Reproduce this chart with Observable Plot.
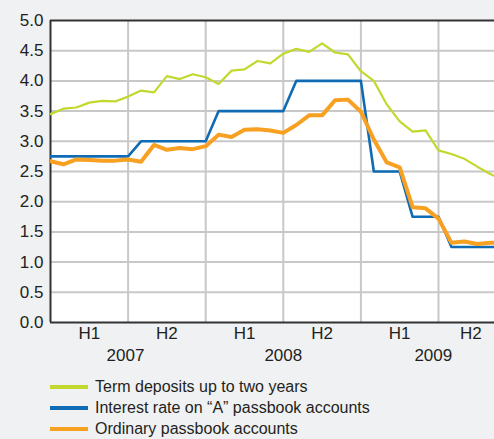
<!DOCTYPE html>
<html>
<head>
<meta charset="utf-8">
<script src="https://cdn.jsdelivr.net/npm/d3@7"></script>
<script src="https://cdn.jsdelivr.net/npm/@observablehq/plot@0.6"></script>
<style>
  html, body { margin: 0; padding: 0; background: #f0f1f3; }
  body { width: 494px; height: 439px; overflow: hidden; font-family: "Liberation Sans", Arial, sans-serif; }
  #legend { position: relative; margin-top: 8px; }
  .item { position: relative; height: 21px; line-height: 21px; font-size: 16px; color: #231f20; padding-left: 95px; white-space: nowrap; }
  .sw { position: absolute; left: 50px; top: 9px; width: 38px; height: 4px; }
</style>
</head>
<body>
<div id="chart"></div>
<div id="legend"></div>
<script>
// Month index: 0 = Jan 2007 ... 35 = Dec 2009 (last month runs past the right edge)
const months = d3.range(0, 36);
const termDeposits = [3.45,3.54,3.56,3.64,3.67,3.66,3.74,3.84,3.81,4.08,4.03,4.11,4.06,3.95,4.17,4.19,4.33,4.29,4.45,4.53,4.48,4.62,4.47,4.44,4.16,4.00,3.61,3.33,3.16,3.18,2.85,2.79,2.71,2.58,2.46,2.36];
const aPassbook =    [2.75,2.75,2.75,2.75,2.75,2.75,2.75,3.00,3.00,3.00,3.00,3.00,3.00,3.50,3.50,3.50,3.50,3.50,3.50,4.00,4.00,4.00,4.00,4.00,4.00,2.50,2.50,2.50,1.75,1.75,1.75,1.25,1.25,1.25,1.25,1.25];
const ordinary =     [2.67,2.62,2.70,2.69,2.68,2.68,2.70,2.66,2.94,2.86,2.89,2.87,2.92,3.11,3.07,3.19,3.20,3.18,3.14,3.27,3.43,3.43,3.68,3.69,3.49,3.03,2.65,2.57,1.91,1.89,1.72,1.32,1.34,1.30,1.32,1.32];

const seriesNames = ["Term deposits up to two years", "Interest rate on \u201cA\u201d passbook accounts", "Ordinary passbook accounts"];
const seriesColors = ["#c3d82f", "#0f6cb4", "#f7a021"];

const halfLabels = ["H1","H2","H1","H2","H1","H2"];
const halfPos = [3, 9, 15, 21, 27, 32.5];
const yearLabels = ["2007","2008","2009"];
const yearPos = [5.8, 18, 29.6];
const gridX = [6, 12, 18, 24, 30];
const gridY = [0.5,1,1.5,2,2.5,3,3.5,4,4.5];
const yTicks = [0,0.5,1,1.5,2,2.5,3,3.5,4,4.5,5];

const rows = (vals) => months.map((m, i) => ({m, v: vals[i]}));
const font = '"Liberation Sans", Arial, sans-serif';

const chart = Plot.plot({
  width: 494,
  height: 368,
  marginLeft: 50,
  marginRight: 0,
  marginTop: 20,
  marginBottom: 46,
  style: { background: "transparent", fontFamily: font, fontSize: "17px", color: "#231f20", overflow: "visible" },
  x: { domain: [0, 34.33], axis: null },
  y: { domain: [0, 5], axis: null },
  marks: [
    Plot.frame({ fill: "white", stroke: "none" }),
    Plot.ruleX(gridX, { stroke: "#c8c8c8", strokeWidth: 2 }),
    Plot.ruleY(gridY, { stroke: "#c8c8c8", strokeWidth: 2 }),
    Plot.ruleX([0], { stroke: "#333", strokeWidth: 2 }),
    Plot.ruleY([0, 5], { stroke: "#333", strokeWidth: 2 }),
    Plot.text(yTicks, { x: 0, y: d => d, text: d => d.toFixed(1), textAnchor: "end", dx: -7, fill: "#231f20", fontSize: 17 }),
    Plot.text(halfLabels, { x: (d, i) => halfPos[i], text: d => d, frameAnchor: "bottom", lineAnchor: "top", dy: 4, fill: "#231f20", fontSize: 17 }),
    Plot.text(yearLabels, { x: (d, i) => yearPos[i], text: d => d, frameAnchor: "bottom", lineAnchor: "top", dy: 26, fill: "#231f20", fontSize: 17 }),
    Plot.line(rows(termDeposits), { x: "m", y: "v", stroke: seriesColors[0], strokeWidth: 2.2, clip: true }),
    Plot.line(rows(aPassbook), { x: "m", y: "v", stroke: seriesColors[1], strokeWidth: 2.6, clip: true }),
    Plot.line(rows(ordinary), { x: "m", y: "v", stroke: seriesColors[2], strokeWidth: 4, clip: true })
  ]
});
document.getElementById("chart").appendChild(chart);

const legend = document.getElementById("legend");
seriesNames.forEach((name, i) => {
  const div = document.createElement("div");
  div.className = "item";
  const sw = document.createElement("span");
  sw.className = "sw";
  sw.style.background = seriesColors[i];
  div.appendChild(sw);
  div.appendChild(document.createTextNode(name));
  legend.appendChild(div);
});
</script>
</body>
</html>
